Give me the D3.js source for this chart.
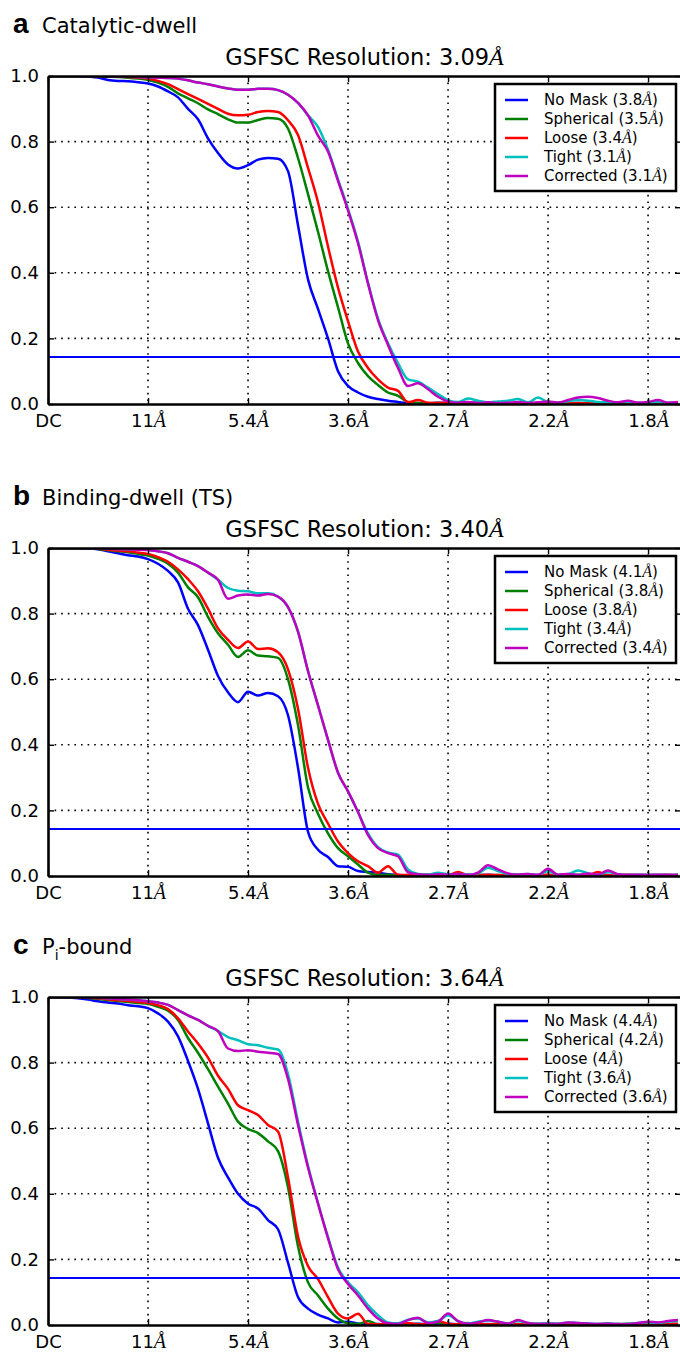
<!DOCTYPE html>
<html>
<head>
<meta charset="utf-8">
<script src="https://cdn.jsdelivr.net/npm/d3@7"></script>
<style>
    body { margin: 0; background: #fff; }
    svg { display: block; }
    text { font-family: 'DejaVu Sans', sans-serif; fill: #000; }
</style>
</head>
<body>
<svg id="chart" width="680" height="1353"></svg>
<script>
// spatial frequency of each sampled shell (1/A), ticks and their labels
var shell = d3.range(64).map(function (i) { return i / 108; });
var tickFreq = [0, 0.0926, 0.1852, 0.2778, 0.3704, 0.463, 0.5556];
var tickLabels = ['DC', '11', '5.4', '3.6', '2.7', '2.2', '1.8'];
var yTicks = [0, 0.2, 0.4, 0.6, 0.8, 1.0];
var threshold = 0.143;

var seriesNames = ['No Mask', 'Spherical', 'Loose', 'Tight', 'Corrected'];
var seriesColors = ['#0000ff', '#008000', '#ff0000', '#00bfbf', '#bf00bf'];

var panelLetters = ['a', 'b', 'c'];
var panelNames = ['Catalytic-dwell', 'Binding-dwell (TS)', 'Pi-bound'];
var panelRes = ['3.09', '3.40', '3.64'];
var legendRes = [
    ['3.8', '3.5', '3.4', '3.1', '3.1'],
    ['4.1', '3.8', '3.8', '3.4', '3.4'],
    ['4.4', '4.2', '4', '3.6', '3.6']
];

// panel a
var blueA = [
    1.0, 1.0, 1.0, 1.0, 0.998, 0.995, 0.988, 0.985, 0.984, 0.981,
    0.977, 0.968, 0.953, 0.935, 0.90, 0.868, 0.81, 0.765, 0.73, 0.718,
    0.728, 0.745, 0.75, 0.748, 0.71, 0.545, 0.38, 0.29, 0.2, 0.10,
    0.055, 0.035, 0.022, 0.015, 0.01, 0.006, 0.002, 0.003, 0.002, 0.004,
    0.003, 0.002, 0.004, 0.003, 0.002, 0.005, 0.003, 0.002, 0.003, 0.002,
    0.004, 0.003, 0.002, 0.003, 0.002, 0.003, 0.002, 0.003, 0.002, 0.003,
    0.002, 0.003, 0.002, 0.003];
var greenA = [
    1.0, 1.0, 1.0, 1.0, 1.0, 0.999, 0.998, 0.997, 0.995, 0.992,
    0.988, 0.98, 0.967, 0.947, 0.932, 0.917, 0.898, 0.884, 0.868, 0.858,
    0.858, 0.866, 0.872, 0.87, 0.84, 0.75, 0.64, 0.525, 0.405, 0.295,
    0.185, 0.125, 0.085, 0.058, 0.035, 0.025, 0.006, 0.003, 0.002, 0.003,
    0.002, 0.003, 0.002, 0.004, 0.002, 0.003, 0.002, 0.003, 0.002, 0.003,
    0.004, 0.002, 0.003, 0.002, 0.003, 0.002, 0.003, 0.002, 0.003, 0.002,
    0.003, 0.002, 0.003, 0.002];
var redA = [
    1.0, 1.0, 1.0, 1.0, 1.0, 1.0, 0.999, 0.998, 0.997, 0.995,
    0.992, 0.985, 0.975, 0.96, 0.945, 0.93, 0.915, 0.90, 0.885, 0.88,
    0.882, 0.89, 0.893, 0.89, 0.865, 0.82, 0.72, 0.615, 0.48, 0.355,
    0.253, 0.16, 0.11, 0.075, 0.05, 0.04, 0.005, 0.012, 0.004, 0.003,
    0.005, 0.002, 0.003, 0.002, 0.004, 0.002, 0.003, 0.002, 0.003, 0.002,
    0.003, 0.004, 0.002, 0.003, 0.002, 0.003, 0.002, 0.003, 0.002, 0.003,
    0.002, 0.003, 0.002, 0.003];
var cyanA = [
    1.0, 1.0, 1.0, 1.0, 1.0, 1.0, 1.0, 0.999, 0.998, 0.997,
    0.996, 0.995, 0.994, 0.992, 0.987, 0.98, 0.975, 0.968, 0.962, 0.958,
    0.958, 0.961, 0.961, 0.957, 0.943, 0.918, 0.88, 0.845, 0.775, 0.685,
    0.595, 0.495, 0.37, 0.26, 0.185, 0.125, 0.075, 0.068, 0.05, 0.03,
    0.012, 0.006, 0.017, 0.01, 0.005, 0.008, 0.01, 0.015, 0.005, 0.02,
    0.006, 0.004, 0.008, 0.012, 0.01, 0.006, 0.005, 0.004, 0.006, 0.003,
    0.004, 0.006, 0.003, 0.005];
var magentaA = [
    1.0, 1.0, 1.0, 1.0, 1.0, 1.0, 1.0, 0.999, 0.998, 0.997,
    0.996, 0.995, 0.994, 0.992, 0.987, 0.98, 0.975, 0.968, 0.962, 0.958,
    0.958, 0.961, 0.961, 0.957, 0.943, 0.918, 0.88, 0.818, 0.77, 0.68,
    0.59, 0.49, 0.367, 0.256, 0.18, 0.11, 0.055, 0.063, 0.045, 0.022,
    0.008, 0.004, 0.006, 0.003, 0.005, 0.003, 0.004, 0.006, 0.003, 0.005,
    0.008, 0.004, 0.012, 0.02, 0.022, 0.018, 0.01, 0.005, 0.01, 0.004,
    0.006, 0.012, 0.004, 0.006];

// panel b
var blueB = [
    1.0, 1.0, 1.0, 1.0, 0.999, 0.996, 0.99, 0.984, 0.978, 0.974,
    0.966, 0.952, 0.93, 0.895, 0.815, 0.765, 0.69, 0.61, 0.56, 0.53,
    0.562, 0.55, 0.558, 0.548, 0.49, 0.33, 0.135, 0.08, 0.058, 0.03,
    0.028, 0.015, 0.012, 0.01, 0.005, 0.003, 0.002, 0.003, 0.002, 0.003,
    0.004, 0.002, 0.003, 0.002, 0.004, 0.002, 0.003, 0.002, 0.003, 0.002,
    0.003, 0.002, 0.004, 0.002, 0.003, 0.002, 0.003, 0.002, 0.003, 0.002,
    0.003, 0.002, 0.003, 0.002];
var greenB = [
    1.0, 1.0, 1.0, 1.0, 0.999, 0.997, 0.993, 0.99, 0.987, 0.982,
    0.977, 0.967, 0.952, 0.925, 0.88, 0.85, 0.79, 0.74, 0.705, 0.668,
    0.688, 0.672, 0.67, 0.665, 0.60, 0.46, 0.27, 0.19, 0.13, 0.085,
    0.06, 0.035, 0.01, 0.003, 0.004, 0.002, 0.003, 0.002, 0.004, 0.002,
    0.003, 0.002, 0.003, 0.004, 0.002, 0.003, 0.002, 0.003, 0.002, 0.003,
    0.002, 0.003, 0.002, 0.004, 0.002, 0.003, 0.002, 0.003, 0.002, 0.003,
    0.002, 0.003, 0.002, 0.003];
var redB = [
    1.0, 1.0, 1.0, 1.0, 1.0, 0.998, 0.995, 0.992, 0.99, 0.986,
    0.982, 0.972, 0.958, 0.935, 0.905, 0.868, 0.815, 0.755, 0.72, 0.695,
    0.715, 0.692, 0.694, 0.682, 0.63, 0.51, 0.33, 0.22, 0.16, 0.105,
    0.07, 0.045, 0.03, 0.01, 0.03, 0.004, 0.003, 0.002, 0.004, 0.003,
    0.002, 0.012, 0.003, 0.002, 0.004, 0.003, 0.002, 0.004, 0.002, 0.003,
    0.004, 0.002, 0.003, 0.002, 0.003, 0.012, 0.002, 0.003, 0.004, 0.002,
    0.003, 0.002, 0.004, 0.002];
var cyanB = [
    1.0, 1.0, 1.0, 1.0, 1.0, 0.999, 0.998, 0.997, 0.996, 0.995,
    0.994, 0.99, 0.984, 0.97, 0.958, 0.945, 0.925, 0.903, 0.878, 0.87,
    0.868, 0.862, 0.862, 0.852, 0.82, 0.745, 0.625, 0.52, 0.415, 0.315,
    0.258, 0.195, 0.13, 0.088, 0.072, 0.065, 0.02, 0.006, 0.004, 0.01,
    0.005, 0.006, 0.004, 0.008, 0.025, 0.015, 0.006, 0.004, 0.006, 0.003,
    0.015, 0.004, 0.006, 0.017, 0.008, 0.004, 0.012, 0.005, 0.003, 0.004,
    0.003, 0.004, 0.003, 0.004];
var magentaB = [
    1.0, 1.0, 1.0, 1.0, 1.0, 0.999, 0.998, 0.997, 0.996, 0.995,
    0.994, 0.99, 0.984, 0.97, 0.958, 0.945, 0.925, 0.903, 0.845, 0.855,
    0.858, 0.855, 0.86, 0.852, 0.82, 0.745, 0.625, 0.52, 0.415, 0.315,
    0.258, 0.195, 0.125, 0.085, 0.07, 0.06, 0.012, 0.005, 0.003, 0.005,
    0.004, 0.006, 0.003, 0.01, 0.033, 0.02, 0.008, 0.004, 0.006, 0.003,
    0.022, 0.004, 0.006, 0.003, 0.008, 0.004, 0.017, 0.005, 0.003, 0.004,
    0.003, 0.004, 0.003, 0.004];

// panel c
var blueC = [
    1.0, 1.0, 0.998, 0.996, 0.992, 0.987, 0.983, 0.98, 0.975, 0.972,
    0.966, 0.95, 0.925, 0.88, 0.805, 0.72, 0.615, 0.51, 0.45, 0.40,
    0.37, 0.355, 0.32, 0.292, 0.19, 0.085, 0.05, 0.032, 0.02, 0.008,
    0.01, 0.004, 0.002, 0.003, 0.002, 0.003, 0.002, 0.004, 0.002, 0.003,
    0.004, 0.002, 0.003, 0.002, 0.003, 0.002, 0.004, 0.002, 0.003, 0.002,
    0.003, 0.002, 0.003, 0.002, 0.004, 0.002, 0.003, 0.002, 0.003, 0.002,
    0.003, 0.002, 0.003, 0.002];
var greenC = [
    1.0, 1.0, 1.0, 0.999, 0.997, 0.994, 0.991, 0.988, 0.985, 0.982,
    0.979, 0.97, 0.958, 0.93, 0.875, 0.83, 0.78, 0.727, 0.675, 0.62,
    0.598, 0.585, 0.56, 0.53, 0.42, 0.24, 0.13, 0.09, 0.05, 0.02,
    0.005, 0.003, 0.012, 0.002, 0.003, 0.002, 0.004, 0.003, 0.002, 0.006,
    0.002, 0.003, 0.002, 0.004, 0.002, 0.003, 0.002, 0.003, 0.002, 0.003,
    0.002, 0.003, 0.002, 0.003, 0.002, 0.003, 0.002, 0.003, 0.002, 0.003,
    0.002, 0.003, 0.002, 0.003];
var redC = [
    1.0, 1.0, 1.0, 0.999, 0.998, 0.996, 0.993, 0.99, 0.988, 0.985,
    0.982, 0.975, 0.963, 0.935, 0.895, 0.858, 0.815, 0.76, 0.72, 0.67,
    0.655, 0.64, 0.61, 0.59, 0.45, 0.27, 0.18, 0.14, 0.085, 0.035,
    0.02, 0.034, 0.003, 0.002, 0.004, 0.003, 0.006, 0.002, 0.003, 0.012,
    0.004, 0.002, 0.006, 0.003, 0.002, 0.004, 0.003, 0.002, 0.004, 0.003,
    0.002, 0.003, 0.002, 0.004, 0.003, 0.002, 0.003, 0.002, 0.004, 0.002,
    0.003, 0.002, 0.003, 0.004];
var cyanC = [
    1.0, 1.0, 1.0, 1.0, 0.999, 0.998, 0.996, 0.994, 0.992, 0.99,
    0.987, 0.983, 0.976, 0.96, 0.944, 0.93, 0.912, 0.896, 0.878, 0.868,
    0.856, 0.853, 0.845, 0.84, 0.765, 0.62, 0.485, 0.372, 0.268, 0.175,
    0.13, 0.1, 0.06, 0.03, 0.008, 0.005, 0.016, 0.02, 0.008, 0.012,
    0.03, 0.012, 0.005, 0.01, 0.014, 0.01, 0.005, 0.012, 0.006, 0.004,
    0.005, 0.004, 0.008, 0.006, 0.004, 0.003, 0.005, 0.003, 0.004, 0.006,
    0.008, 0.006, 0.01, 0.012];
var magentaC = [
    1.0, 1.0, 1.0, 1.0, 0.999, 0.998, 0.996, 0.994, 0.992, 0.99,
    0.987, 0.983, 0.976, 0.96, 0.944, 0.93, 0.912, 0.896, 0.843, 0.835,
    0.838, 0.833, 0.83, 0.826, 0.75, 0.61, 0.48, 0.37, 0.265, 0.17,
    0.125, 0.09, 0.05, 0.02, 0.005, 0.003, 0.015, 0.022, 0.006, 0.01,
    0.035, 0.012, 0.004, 0.008, 0.015, 0.01, 0.004, 0.015, 0.006, 0.003,
    0.004, 0.003, 0.008, 0.006, 0.004, 0.003, 0.004, 0.003, 0.002, 0.006,
    0.01, 0.008, 0.012, 0.015];

var panelSeries = [
    [blueA, greenA, redA, cyanA, magentaA],
    [blueB, greenB, redB, cyanB, magentaB],
    [blueC, greenC, redC, cyanC, magentaC]
];

// layout
var plotLeft = 48, plotRight = 681, plotH = 328;
var panelTops = [76, 548, 997];

var svg = d3.select('#chart');
svg.append('rect').attr('width', 680).attr('height', 1353).attr('fill', '#fff');

var x = d3.scaleLinear().domain([0, 0.5861]).range([plotLeft, plotRight]);

function addAngstrom(sel, size) {
    sel.append('tspan')
        .style('font-family', "'Liberation Serif', serif")
        .style('font-style', 'italic')
        .style('font-size', size + 'px')
        .text('\u00c5');
}

function drawPanel(p) {
    var top = panelTops[p];
    var y = d3.scaleLinear().domain([0, 1]).range([top + plotH, top]);
    var g = svg.append('g');

    g.append('clipPath').attr('id', 'clip' + p)
        .append('rect')
        .attr('x', plotLeft).attr('y', top)
        .attr('width', plotRight - plotLeft).attr('height', plotH);

    // dotted grid
    g.append('g').selectAll('line')
        .data(tickFreq.slice(1))
        .join('line')
        .attr('x1', function (d) { return x(d); })
        .attr('x2', function (d) { return x(d); })
        .attr('y1', top).attr('y2', top + plotH)
        .attr('stroke', '#000').attr('stroke-width', 1.6)
        .attr('stroke-dasharray', '1.6,5');
    g.append('g').selectAll('line')
        .data(yTicks.slice(1, 5))
        .join('line')
        .attr('x1', plotLeft).attr('x2', plotRight)
        .attr('y1', function (d) { return y(d); })
        .attr('y2', function (d) { return y(d); })
        .attr('stroke', '#000').attr('stroke-width', 1.6)
        .attr('stroke-dasharray', '1.6,5');

    // FSC curves
    var line = d3.line()
        .x(function (d, i) { return x(shell[i]); })
        .y(function (d) { return y(d); })
        .curve(d3.curveMonotoneX);
    g.append('g').attr('clip-path', 'url(#clip' + p + ')')
        .selectAll('path')
        .data(panelSeries[p])
        .join('path')
        .attr('d', line)
        .attr('fill', 'none')
        .attr('stroke', function (d, i) { return seriesColors[i]; })
        .attr('stroke-width', 2.5)
        .attr('stroke-linejoin', 'round');

    // threshold
    g.append('line')
        .attr('x1', plotLeft).attr('x2', plotRight)
        .attr('y1', y(threshold)).attr('y2', y(threshold))
        .attr('stroke', '#0000ff').attr('stroke-width', 2);

    // axes with inward ticks
    var bottom = g.append('g')
        .attr('transform', 'translate(0,' + (top + plotH) + ')')
        .call(d3.axisBottom(x).tickValues(tickFreq).tickSizeInner(-6).tickSizeOuter(0).tickPadding(10)
            .tickFormat(function (d, i) { return tickLabels[i]; }));
    bottom.selectAll('text')
        .style('font-size', '18px')
        .each(function (d, i) {
            if (i > 0) addAngstrom(d3.select(this), 20);
        });
    g.append('g')
        .attr('transform', 'translate(0,' + top + ')')
        .call(d3.axisTop(x).tickValues(tickFreq).tickSizeInner(-6).tickSizeOuter(0).tickFormat(''));
    g.append('g')
        .attr('transform', 'translate(' + plotLeft + ',0)')
        .call(d3.axisLeft(y).tickValues(yTicks).tickSizeInner(-6).tickSizeOuter(0).tickPadding(9)
            .tickFormat(d3.format('.1f')))
        .selectAll('text').style('font-size', '18px');
    g.append('g')
        .attr('transform', 'translate(' + plotRight + ',0)')
        .call(d3.axisRight(y).tickValues(yTicks).tickSizeInner(-6).tickSizeOuter(0).tickFormat(''));
    g.selectAll('.domain').attr('stroke', '#000').attr('stroke-width', 2.6);
    g.selectAll('.tick line').attr('stroke', '#000').attr('stroke-width', 1.4);
    g.selectAll('.tick text').attr('fill', '#000').style('font-family', "'DejaVu Sans', sans-serif");

    // legend
    var lg = g.append('g');
    lg.append('rect')
        .attr('x', 495).attr('y', top + 8)
        .attr('width', 181).attr('height', 107)
        .attr('fill', '#fff').attr('stroke', '#000').attr('stroke-width', 2.5);
    var rows = lg.selectAll('g')
        .data(seriesNames)
        .join('g')
        .attr('transform', function (d, i) { return 'translate(0,' + (top + 24 + i * 19) + ')'; });
    rows.append('line')
        .attr('x1', 505).attr('x2', 528)
        .attr('stroke', function (d, i) { return seriesColors[i]; })
        .attr('stroke-width', 2.5);
    rows.append('text')
        .attr('x', 544).attr('dy', '0.36em')
        .style('font-size', '15px')
        .text(function (d, i) { return d + ' (' + legendRes[p][i]; })
        .each(function () {
            addAngstrom(d3.select(this), 16);
            d3.select(this).append('tspan').text(')');
        });

    // panel titles
    g.append('text')
        .attr('x', 13).attr('y', top - 43)
        .style('font-family', "'Liberation Sans', Arial, sans-serif")
        .style('font-weight', 'bold').style('font-size', '28px')
        .text(panelLetters[p]);
    var name = g.append('text')
        .attr('x', 42).attr('y', top - 43)
        .style('font-size', '21px');
    if (p === 2) {
        name.append('tspan').text('P');
        name.append('tspan').attr('dy', 6).style('font-size', '14px').text('i');
        name.append('tspan').attr('dy', -6).text('-bound');
    } else {
        name.text(panelNames[p]);
    }
    var title = g.append('text')
        .attr('x', (plotLeft + plotRight) / 2).attr('y', top - 11)
        .attr('text-anchor', 'middle')
        .style('font-size', '22.5px')
        .text('GSFSC Resolution: ' + panelRes[p]);
    addAngstrom(title, 24);
}

for (var p = 0; p < 3; p++) {
    drawPanel(p);
}
</script>
</body>
</html>
